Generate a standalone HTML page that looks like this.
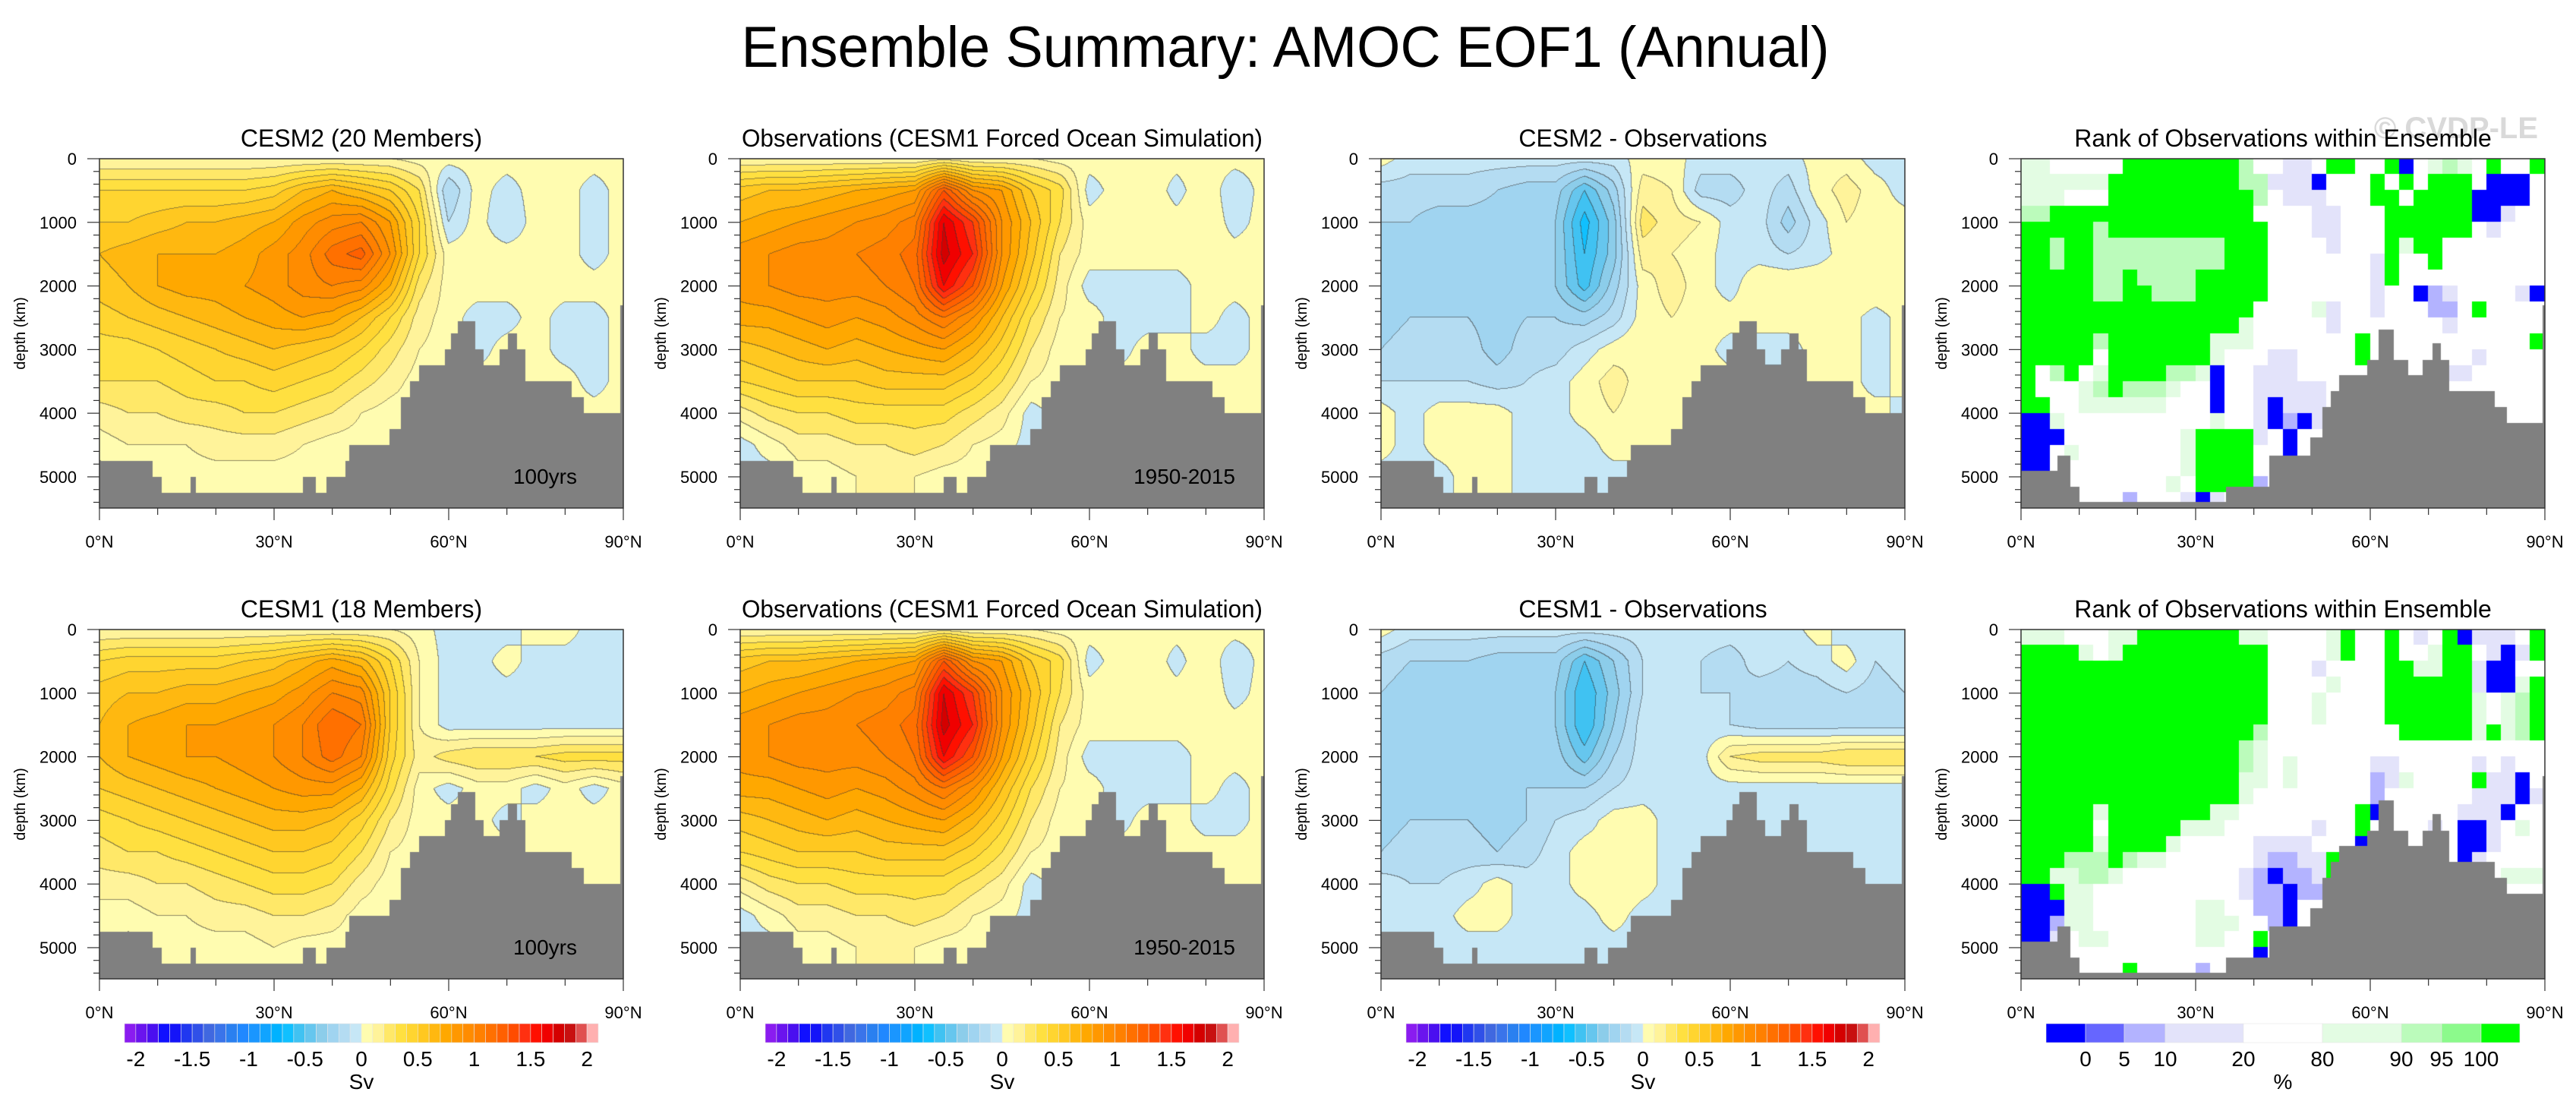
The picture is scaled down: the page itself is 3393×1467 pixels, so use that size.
<!DOCTYPE html>
<html><head><meta charset="utf-8"><title>Ensemble Summary: AMOC EOF1 (Annual)</title>
<style>
html,body{margin:0;padding:0;background:#fff;}
#wrap{position:relative;width:3393px;height:1467px;overflow:hidden;background:#fff;}
#cv{position:absolute;left:0;top:0;}
#ov{position:absolute;left:0;top:0;}
text{font-family:"Liberation Sans",sans-serif;fill:#000;}
</style></head>
<body>
<div id="wrap">
<canvas id="cv" width="3393" height="1467"></canvas>
<svg id="ov" width="3393" height="1467" xmlns="http://www.w3.org/2000/svg">
<text x="1693" y="88" font-size="76" text-anchor="middle" textLength="1433" lengthAdjust="spacingAndGlyphs">Ensemble Summary: AMOC EOF1 (Annual)</text>
<text x="3343" y="182" font-size="40" font-weight="bold" text-anchor="end" style="fill:#d9d9d9">© CVDP-LE</text>
</svg>
</div>
<script>
// ---------- data ----------
const lats = [0,5,10,15,20,25,30,35,40,45,50,55,60,65,70,75,80,85,90];
const depths = [0,500,1000,1500,2000,2500,3000,3500,4000,4500,5000,5500];
const cesm2 = [
[0.1,0.1,0.1,0.1,0.1,0.1,0.1,0.1,0.1,0.1,0.1,0.05,0.05,0.05,0.05,0.05,0.05,0.05,0.05],
[0.4,0.4,0.4,0.4,0.4,0.4,0.45,0.6,0.7,0.6,0.5,0.3,-0.2,0.05,-0.05,0.05,0.05,-0.05,0.05],
[0.5,0.5,0.55,0.6,0.6,0.65,0.7,0.85,0.95,1.0,0.8,0.4,-0.1,0.05,-0.1,0.05,0.05,-0.05,0.05],
[0.6,0.65,0.7,0.7,0.7,0.75,0.85,0.95,1.15,1.25,0.9,0.4,0.05,0.05,0.05,0.05,0.05,-0.05,0.05],
[0.55,0.6,0.7,0.75,0.75,0.8,0.85,0.95,1.0,0.95,0.7,0.25,0.05,0.05,0.05,0.05,0.05,0.05,0.05],
[0.45,0.5,0.55,0.6,0.65,0.7,0.75,0.8,0.75,0.6,0.4,0.15,0.05,-0.05,-0.05,0.05,-0.05,-0.05,0.05],
[0.35,0.35,0.4,0.45,0.5,0.55,0.6,0.55,0.5,0.4,0.25,0.1,0.05,-0.05,0.05,0.05,-0.05,-0.05,0.05],
[0.3,0.3,0.3,0.35,0.4,0.4,0.45,0.4,0.35,0.25,0.15,0.05,0.05,0.05,0.05,0.05,0.05,-0.05,0.05],
[0.15,0.2,0.2,0.25,0.25,0.3,0.3,0.25,0.2,0.1,0.05,0.05,0.05,0.05,0.05,0.05,0.05,0.05,0.05],
[0.05,0.1,0.1,0.1,0.15,0.15,0.15,0.1,0.05,0.05,0.05,-0.05,0.05,0.05,0.05,0.05,0.05,0.05,0.05],
[-0.05,-0.05,0.05,0.05,0.05,0.05,0.05,0.05,0.05,0.05,-0.05,-0.05,0.05,0.05,0.05,0.05,0.05,0.05,0.05],
[-0.05,-0.05,0.05,0.05,0.05,0.05,0.05,0.05,0.05,0.05,-0.05,-0.05,0.05,0.05,0.05,0.05,0.05,0.05,0.05]];
const obs = [
[0.1,0.1,0.1,0.1,0.1,0.1,0.1,0.15,0.1,0.1,0.1,0.05,0.05,0.05,0.05,0.05,0.05,0.05,0.05],
[0.55,0.6,0.6,0.65,0.7,0.75,0.8,1.3,0.9,0.8,0.5,0.35,-0.05,0.05,0.1,-0.05,0.1,-0.1,0.05],
[0.7,0.75,0.8,0.85,0.9,0.95,1.05,1.7,1.4,0.9,0.6,0.3,0.05,0.1,0.1,0.05,0.1,-0.05,0.05],
[0.85,0.9,0.95,0.95,1.0,1.05,1.15,1.75,1.5,0.9,0.55,0.2,0.05,0.05,0.05,0.05,0.05,0.05,0.05],
[0.85,0.9,0.95,0.95,0.95,1.0,1.1,1.6,1.3,0.8,0.45,0.15,-0.05,-0.05,-0.05,-0.05,0.05,0.05,0.05],
[0.75,0.75,0.8,0.85,0.8,0.85,0.95,1.1,0.9,0.6,0.3,0.1,0.05,-0.05,-0.05,-0.05,0.05,-0.05,0.05],
[0.55,0.6,0.65,0.7,0.65,0.7,0.75,0.8,0.65,0.45,0.2,0.05,0.05,-0.05,0.05,0.05,-0.05,-0.05,0.05],
[0.4,0.45,0.5,0.5,0.5,0.55,0.55,0.55,0.45,0.3,0.1,0.05,0.05,0.05,0.05,0.05,0.05,0.05,0.05],
[0.15,0.25,0.3,0.3,0.35,0.35,0.35,0.35,0.25,0.15,-0.05,0.05,0.05,0.05,0.05,0.05,0.05,0.05,0.05],
[-0.05,0.05,0.15,0.15,0.2,0.2,0.25,0.2,0.1,0.05,-0.05,0.05,0.05,0.05,0.05,0.05,0.05,0.05,0.05],
[-0.05,-0.05,0.05,0.05,0.1,0.1,0.1,0.05,0.05,-0.05,-0.05,0.05,0.05,0.05,0.05,0.05,0.05,0.05,0.05],
[-0.05,-0.05,0.05,0.05,0.1,0.1,0.1,0.05,0.05,-0.05,-0.05,0.05,0.05,0.05,0.05,0.05,0.05,0.05,0.05]];
const diff2 = [
[0.05,-0.05,-0.05,-0.05,-0.05,-0.05,-0.05,-0.05,-0.05,0.05,0.05,-0.05,-0.05,-0.05,-0.05,0.05,0.05,-0.05,-0.05],
[-0.15,-0.15,-0.15,-0.15,-0.2,-0.25,-0.25,-0.5,-0.25,0.15,0.1,-0.15,-0.15,-0.05,-0.15,0.05,0.15,0.05,-0.05],
[-0.2,-0.2,-0.25,-0.25,-0.25,-0.25,-0.3,-0.65,-0.35,0.25,0.15,0.1,-0.05,-0.05,-0.25,-0.05,0.1,0.05,0.05],
[-0.25,-0.2,-0.25,-0.25,-0.25,-0.25,-0.3,-0.6,-0.35,0.15,0.1,0.05,-0.05,-0.05,-0.1,-0.05,0.05,0.05,0.05],
[-0.3,-0.2,-0.25,-0.25,-0.2,-0.2,-0.3,-0.55,-0.25,0.05,0.15,0.05,-0.05,0.1,0.1,0.1,0.1,0.1,0.1],
[-0.25,-0.2,-0.2,-0.2,-0.25,-0.2,-0.2,-0.25,-0.15,0.05,0.1,0.05,0.05,0.05,0.05,0.05,0.05,-0.05,0.05],
[-0.2,-0.15,-0.15,-0.15,-0.25,-0.15,-0.15,-0.05,0.05,0.1,0.05,0.05,-0.05,-0.05,-0.05,0.05,0.05,-0.05,0.05],
[-0.1,-0.1,-0.1,-0.1,-0.15,-0.1,-0.05,0.05,0.15,0.05,0.05,0.05,0.05,0.05,0.05,0.05,0.05,-0.05,0.05],
[0.05,-0.05,0.05,0.05,0.05,-0.05,-0.05,0.05,0.1,0.05,0.05,0.05,0.05,0.05,0.05,0.05,0.05,0.05,-0.05],
[0.05,-0.05,0.05,0.05,0.05,-0.05,-0.05,-0.05,0.05,0.05,0.05,0.05,0.05,0.05,0.05,0.05,0.05,0.05,0.05],
[-0.05,-0.05,-0.05,0.05,0.05,-0.05,-0.05,-0.05,-0.05,-0.05,0.05,0.05,0.05,0.05,0.05,0.05,0.05,0.05,0.05],
[-0.05,-0.05,-0.05,0.05,0.05,-0.05,-0.05,-0.05,-0.05,-0.05,0.05,0.05,0.05,0.05,0.05,0.05,0.05,0.05,0.05]];
const cesm1 = [
[0.1,0.1,0.1,0.1,0.1,0.1,0.1,0.1,0.1,0.1,0.1,0.05,-0.05,-0.05,-0.05,0.05,0.05,-0.05,-0.05],
[0.4,0.45,0.45,0.45,0.45,0.5,0.55,0.65,0.75,0.65,0.4,0.1,-0.05,-0.05,0.05,-0.05,-0.05,-0.05,-0.05],
[0.55,0.6,0.6,0.65,0.65,0.7,0.75,0.85,1.0,0.95,0.5,0.1,-0.05,-0.05,-0.05,-0.05,-0.05,-0.05,-0.05],
[0.6,0.7,0.75,0.8,0.8,0.85,0.9,1.0,1.2,1.1,0.5,0.1,-0.05,-0.05,-0.05,-0.05,-0.05,-0.05,-0.05],
[0.6,0.7,0.75,0.8,0.8,0.85,0.9,1.0,1.15,1.0,0.45,0.15,0.25,0.3,0.3,0.3,0.35,0.35,0.35],
[0.5,0.55,0.6,0.65,0.7,0.75,0.8,0.85,0.85,0.7,0.35,0.05,-0.05,0.05,0.05,-0.05,0.05,-0.05,0.05],
[0.35,0.4,0.45,0.5,0.55,0.6,0.65,0.65,0.6,0.45,0.2,0.05,0.05,0.05,-0.05,0.05,0.05,0.05,0.05],
[0.25,0.3,0.3,0.35,0.4,0.45,0.5,0.5,0.45,0.3,0.1,0.05,0.05,0.05,0.05,0.05,0.05,0.05,0.05],
[0.15,0.15,0.2,0.2,0.25,0.3,0.35,0.35,0.3,0.15,0.05,0.05,0.05,0.05,0.05,0.05,0.05,0.05,0.05],
[0.05,0.05,0.1,0.1,0.15,0.15,0.2,0.2,0.15,0.05,0.05,0.05,0.05,0.05,0.05,0.05,0.05,0.05,0.05],
[0.05,-0.05,0.05,0.05,0.05,0.05,0.1,0.05,0.05,0.05,0.05,0.05,0.05,0.05,0.05,0.05,0.05,0.05,0.05],
[0.05,-0.05,0.05,0.05,0.05,0.05,0.1,0.05,0.05,0.05,0.05,0.05,0.05,0.05,0.05,0.05,0.05,0.05,0.05]];
const diff1 = [
[0.05,-0.05,-0.05,-0.05,-0.05,-0.05,-0.05,-0.05,-0.05,-0.05,-0.05,-0.05,-0.05,-0.05,-0.05,0.05,-0.05,-0.05,-0.05],
[-0.15,-0.2,-0.2,-0.2,-0.25,-0.25,-0.25,-0.5,-0.3,-0.1,-0.1,-0.1,-0.15,-0.05,-0.1,-0.05,0.05,-0.1,-0.05],
[-0.2,-0.25,-0.25,-0.25,-0.25,-0.25,-0.3,-0.6,-0.35,-0.1,-0.05,-0.1,-0.1,-0.15,-0.15,-0.15,-0.1,-0.15,-0.1],
[-0.3,-0.25,-0.25,-0.25,-0.25,-0.25,-0.3,-0.6,-0.3,-0.05,-0.05,-0.05,-0.1,-0.15,-0.15,-0.15,-0.15,-0.15,-0.15],
[-0.3,-0.25,-0.25,-0.25,-0.25,-0.25,-0.25,-0.45,-0.2,-0.05,-0.05,-0.05,0.2,0.25,0.25,0.25,0.3,0.3,0.3],
[-0.3,-0.25,-0.2,-0.25,-0.25,-0.2,-0.2,-0.2,-0.1,-0.05,-0.05,-0.05,-0.05,-0.05,-0.05,-0.05,-0.05,-0.05,-0.05],
[-0.25,-0.2,-0.2,-0.2,-0.25,-0.2,-0.1,-0.05,0.05,0.05,-0.05,-0.05,-0.05,-0.05,-0.05,-0.05,-0.05,-0.05,-0.05],
[-0.2,-0.15,-0.15,-0.15,-0.2,-0.15,-0.05,0.05,0.05,0.05,-0.05,-0.05,-0.05,-0.05,-0.05,-0.05,-0.05,-0.05,-0.05],
[-0.05,-0.1,-0.1,-0.05,0.05,-0.05,-0.05,0.05,0.1,0.05,-0.05,-0.05,-0.05,-0.05,-0.05,-0.05,-0.05,-0.05,-0.05],
[-0.05,-0.05,-0.05,0.05,0.05,-0.05,-0.05,-0.05,0.05,-0.05,-0.05,-0.05,-0.05,-0.05,-0.05,-0.05,-0.05,-0.05,-0.05],
[-0.05,-0.05,-0.05,-0.05,-0.05,-0.05,-0.05,-0.05,-0.05,-0.05,-0.05,-0.05,-0.05,-0.05,-0.05,-0.05,-0.05,-0.05,-0.05],
[-0.05,-0.05,-0.05,-0.05,-0.05,-0.05,-0.05,-0.05,-0.05,-0.05,-0.05,-0.05,-0.05,-0.05,-0.05,-0.05,-0.05,-0.05,-0.05]];
// rank category grids: 36 lat bins (2.5 deg) x 22 depth bins (250 m); 0=<0%,1=0-5,2=5-10,3=10-20,4=20-80,5=80-90,6=90-95,7=95-100,8=>100
const rank2 = [
[5,5,4,4,4,4,4,8,8,8,8,8,8,8,8,6,4,4,3,3,4,8,8,4,4,8,0,4,5,6,5,4,8,4,4,8],
[5,5,5,5,5,5,8,8,8,8,8,8,8,8,8,6,6,3,3,3,0,4,4,4,8,4,8,4,8,8,8,4,0,0,0,4],
[5,5,5,4,4,4,8,8,8,8,8,8,8,8,8,8,6,4,3,3,3,4,4,4,8,8,4,8,8,8,8,0,0,0,0,4],
[6,6,8,8,8,8,8,8,8,8,8,8,8,8,8,8,4,4,4,4,3,3,4,4,4,8,8,8,8,8,8,0,0,3,4,4],
[8,8,8,8,8,6,8,8,8,8,8,8,8,8,8,8,8,4,4,4,3,3,4,4,4,8,8,8,8,8,8,4,3,4,4,4],
[8,8,6,8,8,6,6,6,6,6,6,6,6,6,8,8,8,4,4,4,4,3,4,4,4,8,5,8,8,4,4,4,4,4,4,4],
[8,8,6,8,8,6,6,6,6,6,6,6,6,6,8,8,8,4,4,4,4,4,4,4,3,8,4,4,8,4,4,4,4,4,4,4],
[8,8,8,8,8,6,6,8,6,6,6,6,8,8,8,8,8,4,4,4,4,4,4,4,3,8,4,4,4,4,4,4,4,4,4,4],
[8,8,8,8,8,6,6,8,8,6,6,6,8,8,8,8,8,4,4,4,4,4,4,4,3,4,4,0,2,3,4,4,4,4,3,0],
[8,8,8,8,8,8,8,8,8,8,8,8,8,8,8,8,4,4,4,4,5,3,4,4,3,4,4,4,2,2,4,8,4,4,4,4],
[8,8,8,8,8,8,8,8,8,8,8,8,8,8,8,5,4,4,4,4,4,3,4,4,4,4,4,4,4,3,4,4,4,4,4,4],
[8,8,8,8,8,6,8,8,8,8,8,8,8,5,5,5,4,4,4,4,4,4,4,8,4,4,4,4,4,4,4,4,4,4,4,8],
[8,8,8,8,8,4,8,8,8,8,8,8,8,5,4,4,4,3,3,4,4,4,4,8,4,4,4,4,4,4,4,3,4,4,4,4],
[8,4,6,8,4,5,8,8,8,8,6,6,5,0,4,4,3,3,3,4,4,4,4,4,4,4,4,4,4,3,3,4,4,4,4,4],
[8,4,4,4,5,6,8,6,6,6,5,4,4,0,4,4,3,3,3,3,3,4,4,4,4,4,4,4,4,4,4,4,4,4,4,4],
[8,8,4,4,5,5,5,5,5,5,4,4,4,0,4,4,3,0,3,3,3,4,4,4,4,4,4,4,4,4,4,4,4,4,4,4],
[0,0,5,4,4,4,4,4,4,4,4,4,4,5,4,4,3,0,2,0,3,4,4,4,4,4,4,4,4,4,4,4,4,4,4,4],
[0,0,0,4,4,4,4,4,4,4,4,5,8,8,8,8,3,4,0,4,4,4,4,4,4,4,4,4,4,4,4,4,4,4,4,4],
[0,0,4,5,4,4,4,4,4,4,4,5,8,8,8,8,4,4,0,4,4,4,4,4,4,4,4,4,4,4,4,4,4,4,4,4],
[0,0,4,4,4,4,4,4,4,4,4,5,8,8,8,8,4,4,4,4,4,4,4,4,4,4,4,4,4,4,4,4,4,4,4,4],
[4,4,4,4,4,4,4,4,4,4,5,4,8,8,8,8,2,4,4,4,4,4,4,4,4,4,4,4,4,4,4,4,4,4,4,4],
[4,4,4,4,4,4,4,2,4,4,4,3,0,3,4,8,4,4,4,4,4,4,4,4,4,4,4,4,4,4,4,4,4,4,4,4]];
const rank1 = [
[5,5,5,4,4,4,5,5,8,8,8,8,8,8,8,5,5,4,4,4,4,5,8,4,4,8,4,3,4,8,0,3,3,3,4,8],
[8,8,8,8,5,4,5,8,8,8,8,8,8,8,8,8,8,4,4,4,4,5,8,4,4,8,4,4,5,8,8,4,3,0,3,8],
[8,8,8,8,8,8,8,8,8,8,8,8,8,8,8,8,8,4,4,4,3,4,4,4,4,8,8,5,5,8,8,3,0,0,4,4],
[8,8,8,8,8,8,8,8,8,8,8,8,8,8,8,8,8,4,4,4,4,5,4,4,4,8,8,8,8,8,8,3,0,0,5,8],
[8,8,8,8,8,8,8,8,8,8,8,8,8,8,8,8,8,4,4,4,5,4,4,4,4,8,8,8,8,8,8,5,4,5,6,8],
[8,8,8,8,8,8,8,8,8,8,8,8,8,8,8,8,8,4,4,4,5,4,4,4,4,8,8,8,8,8,8,5,4,5,6,8],
[8,8,8,8,8,8,8,8,8,8,8,8,8,8,8,8,6,4,4,4,4,4,4,4,4,4,8,8,8,8,8,5,8,5,6,8],
[8,8,8,8,8,8,8,8,8,8,8,8,8,8,8,6,5,4,4,4,4,4,4,4,4,4,4,4,4,4,4,4,4,4,4,4],
[8,8,8,8,8,8,8,8,8,8,8,8,8,8,8,6,5,4,5,4,4,4,4,4,3,3,4,4,4,4,4,3,4,3,4,4],
[8,8,8,8,8,8,8,8,8,8,8,8,8,8,8,5,5,4,5,4,4,4,4,4,2,3,5,4,4,4,4,8,3,3,0,4],
[8,8,8,8,8,8,8,8,8,8,8,8,8,8,8,5,4,4,4,4,4,4,4,4,2,4,4,4,4,4,4,3,3,3,0,3],
[8,8,8,8,8,5,8,8,8,8,8,8,8,5,5,4,4,4,4,4,4,4,4,8,0,4,4,4,4,4,3,3,3,0,4,4],
[8,8,8,8,8,4,8,8,8,8,8,5,5,5,4,4,4,4,4,4,3,4,4,8,4,4,4,4,3,4,0,0,3,4,5,4],
[8,8,8,8,8,5,8,8,8,8,5,4,4,4,4,4,3,3,3,3,4,4,4,0,4,4,4,4,4,4,0,0,3,4,4,4],
[8,8,8,6,6,6,8,6,5,5,4,4,4,4,4,4,3,2,2,3,3,8,4,4,4,4,4,4,4,4,0,3,4,4,4,4],
[8,8,5,5,6,6,5,4,4,4,4,4,4,4,4,3,2,0,2,2,3,8,4,4,4,4,4,4,4,4,4,4,4,5,5,5],
[0,0,8,5,5,4,4,4,4,4,4,4,4,4,4,3,2,2,0,2,2,4,4,4,4,4,4,4,4,4,4,4,4,4,4,4],
[0,0,0,5,5,4,4,4,4,4,4,4,5,5,4,4,2,2,0,4,4,4,4,4,4,4,4,4,4,4,4,4,4,4,4,4],
[0,0,2,5,5,4,4,4,4,4,4,4,5,5,5,4,4,2,0,4,4,4,4,4,4,4,4,4,4,4,4,4,4,4,4,4],
[0,0,3,4,5,5,4,4,4,4,4,4,5,5,4,4,8,4,4,4,4,4,4,4,4,4,4,4,4,4,4,4,4,4,4,4],
[4,4,4,4,4,4,4,4,4,4,4,4,4,4,4,4,0,4,4,4,4,4,4,4,4,4,4,4,4,4,4,4,4,4,4,4],
[4,4,4,4,4,4,4,8,4,4,4,4,2,4,4,4,4,4,4,4,4,4,4,4,4,4,4,4,4,4,4,4,4,4,4,4]];
const topoLat = [0,9.1,10.7,15.7,16.5,35,37.2,39,42.3,42.9,49.8,51.8,53.4,54.9,59.4,60.4,61.5,64.6,66,68.7,70.2,71.8,73.2,81.1,83.2,89.5];
const topoDepth = [4750,5000,5250,5000,5250,5000,5250,5000,4750,4500,4250,3750,3500,3250,3000,2750,2550,3000,3250,3000,2750,3000,3500,3750,4000,2300];
const rankTopoLat = [0,6.2,8.5,10.1,35.2,42.7,49.7,51.8,53.2,54.6,59.5,61.4,64.0,66.5,69.0,70.7,72.1,73.5,81.4,83.5,89.6];
const rankTopoDepth = [4900,4670,5150,5400,5150,4670,4380,3900,3650,3400,3160,2680,3160,3400,3160,2900,3160,3650,3900,4150,2300];
const svTicks = [-2,-1.5,-1,-0.5,0,0.5,1,1.5,2];
const svTickLabels = ["-2","-1.5","-1","-0.5","0","0.5","1","1.5","2"];
const rankTickLabels = ["0","5","10","20","80","90","95","100"];
const depthTicks = [0,1000,2000,3000,4000,5000];
const latTicks = [0,30,60,90];
const latTickLabels = ["0°N","30°N","60°N","90°N"];
const panelTitles = [["CESM2 (20 Members)","Observations (CESM1 Forced Ocean Simulation)","CESM2 - Observations","Rank of Observations within Ensemble"],
                     ["CESM1 (18 Members)","Observations (CESM1 Forced Ocean Simulation)","CESM1 - Observations","Rank of Observations within Ensemble"]];
// ---------- styling ----------
const svColors = ["#8a1cf0","#6a14ee","#4a0ff0","#1010ff","#1414f8","#2038f0","#3050e8","#4068e0","#3a74ea","#2a80f0","#2088ff","#1a96ff","#10a4ff","#00b2ff","#10c0ff","#40c2f2","#66c6ee","#8ccdea","#a0d4f0","#b4dcf2","#c6e7f6",
"#fffcb0","#fff39a","#ffe868","#ffe040","#ffd530","#ffc820","#ffb810","#ffa800","#ff9800","#ff8c00","#ff8000","#ff7000","#ff6000","#ff4c00","#ff3010","#ff1000","#f00000","#d40000","#c81010","#e05050","#ffb0b0"];
const rankColors = ["#0000ff","#6666ff","#b3b3ff","#e3e3fa","#ffffff","#e3fce3","#bbfbbb","#8cfa8c","#00ff00"];
const rankBounds = [2695,2747,2798,2852,2955,3059,3163,3216,3268,3319];
const PL = [131,975,1819,2662], PT = [209,829], PW = 690, PH = 460, DMAX = 5490;
const NS = "http://www.w3.org/2000/svg";
const svg = document.getElementById('ov');
const ctx = document.getElementById('cv').getContext('2d');

function xOf(p, lat){ return PL[p] + lat/90*PW; }
function yOf(r, dep){ return PT[r] + dep/DMAX*PH; }
function hex(c){ return [parseInt(c.substr(1,2),16),parseInt(c.substr(3,2),16),parseInt(c.substr(5,2),16)]; }
const svRGB = svColors.map(hex);

function sample(grid, lat, dep){
  let fi = Math.min(lat/5, lats.length-1.0001), fj = Math.min(dep/500, depths.length-1.0001);
  const i = Math.floor(fi), j = Math.floor(fj), a = fi-i, b = fj-j;
  return (grid[j][i]*(1-a)+grid[j][i+1]*a)*(1-b) + (grid[j+1][i]*(1-a)+grid[j+1][i+1]*a)*b;
}
function levelIdx(v){ let k = Math.floor(v/0.1+1e-9)+21; return Math.max(0,Math.min(41,k)); }

function drawTopo(p, r, tl, td){
  ctx.fillStyle = '#808080';
  for(let i=0;i<tl.length;i++){
    const l0 = tl[i], l1 = (i+1<tl.length)? tl[i+1] : 90;
    const x0 = Math.round(xOf(p,l0)), x1 = Math.round(xOf(p,l1));
    const y0 = Math.round(yOf(r,td[i]));
    ctx.fillRect(x0, y0, x1-x0, PT[r]+PH-y0);
  }
}
function drawContour(p, r, grid){
  const W = PW, H = PH;
  const idx = new Int16Array(W*H);
  for(let y=0;y<H;y++){ const dep=(y+0.5)/H*DMAX;
    for(let x=0;x<W;x++){ idx[y*W+x] = levelIdx(sample(grid,(x+0.5)/W*90,dep)); } }
  const img = ctx.createImageData(W,H);
  for(let y=0;y<H;y++) for(let x=0;x<W;x++){
    const k = y*W+x, c = svRGB[idx[k]];
    let line = (x<W-1 && idx[k+1]!==idx[k]) || (y<H-1 && idx[k+W]!==idx[k]);
    const f = line ? 0.45 : 1;
    img.data[k*4] = c[0]*f+ (line?30:0); img.data[k*4+1] = c[1]*f+(line?30:0); img.data[k*4+2] = c[2]*f+(line?30:0); img.data[k*4+3] = 255;
  }
  ctx.putImageData(img, PL[p], PT[r]);
  drawTopo(p, r, topoLat, topoDepth);
}
function drawRank(p, r, grid){
  const cw = PW/36, ch = 250/DMAX*PH;
  for(let j=0;j<grid.length;j++) for(let i=0;i<36;i++){
    ctx.fillStyle = rankColors[grid[j][i]];
    const x0 = Math.floor(xOf(p,i*2.5)), x1 = Math.ceil(xOf(p,(i+1)*2.5));
    const y0 = Math.floor(yOf(r,j*250)), y1 = Math.min(Math.ceil(yOf(r,(j+1)*250)), PT[r]+PH);
    ctx.fillRect(x0,y0,x1-x0,y1-y0);
  }
  drawTopo(p, r, rankTopoLat, rankTopoDepth);
}
function mk(tag, attrs){ const e = document.createElementNS(NS, tag); for(const k in attrs) e.setAttribute(k, attrs[k]); svg.appendChild(e); return e; }
function txt(x, y, s, size, anchor){ const t = mk('text', {x:x, y:y, 'font-size':size, 'text-anchor':anchor}); t.textContent = s; return t; }

function drawAxes(p, r){
  const L = PL[p], T = PT[r];
  const fr = mk('rect', {x:L, y:T, width:PW, height:PH, fill:'none', stroke:'#333', 'stroke-width':1.5});
  
  
  for(let d=0; d<=5400; d+=200){
    const y = yOf(r,d), major = (d%1000===0);
    const tk = mk('line', {x1:L-(major?16:8), x2:L, y1:y, y2:y, stroke:'#333', 'stroke-width':1.2});
    
    
  }
  depthTicks.forEach(function(d){
    const t = txt(L-30, yOf(r,d)+8, String(d), 22, 'end');
    
    
  });
  for(let lat=0; lat<=90; lat+=10){
    const x = xOf(p,lat), major = (lat%30===0);
    const tk = mk('line', {x1:x, x2:x, y1:T+PH, y2:T+PH+(major?16:9), stroke:'#333', 'stroke-width':1.2});
    
    
  }
  latTicks.forEach(function(lat, i){
    const t = txt(xOf(p,lat), T+PH+52, latTickLabels[i], 22, 'middle');
    
    
  });
  const yt = txt(0, 0, 'depth (km)', 20, 'middle');
  yt.setAttribute('transform', 'translate('+(L-98)+','+(T+PH/2)+') rotate(-90)');
  
  
  const title = panelTitles[r][p];
  const tt = txt(L+PW/2, T-16, title, 32, 'middle');
  if(title.length > 40){ tt.setAttribute('textLength', 686); tt.setAttribute('lengthAdjust', 'spacingAndGlyphs'); }
  
  
}

for(let r=0;r<2;r++){
  drawContour(0, r, r===0 ? cesm2 : cesm1);
  drawContour(1, r, obs);
  drawContour(2, r, r===0 ? diff2 : diff1);
  drawRank(3, r, r===0 ? rank2 : rank1);
  for(let p=0;p<4;p++) drawAxes(p, r);
  const a1 = txt(PL[0]+PW-61, PT[r]+PH-32, '100yrs', 28, 'end');
  
  
  const a2 = txt(PL[1]+PW-38, PT[r]+PH-32, '1950-2015', 28, 'end');
  
  
}

// colorbars
const CBY = 1348, CBH = 25;
for(let p=0;p<3;p++){
  const x0 = 164 + p*844, bw = 624/42;
  for(let k=0;k<42;k++){
    const b = mk('rect', {x:x0+k*bw, y:CBY, width:bw, height:CBH, fill:svColors[k], stroke:'#e6e6e6', 'stroke-width':0.6});
    
    
  }
  svTicks.forEach(function(v, i){
    const t = txt(x0 + bw*(1+(v+2)*10), 1404, svTickLabels[i], 28, 'middle');
    
    
  });
  const u = txt(x0+bw*21, 1434, 'Sv', 28, 'middle');
  
  
}
for(let k=0;k<9;k++){
  const b = mk('rect', {x:rankBounds[k], y:CBY, width:rankBounds[k+1]-rankBounds[k], height:CBH, fill:rankColors[k], stroke:'#e6e6e6', 'stroke-width':0.6});
  
  
}
rankTickLabels.forEach(function(s, i){
  const t = txt(rankBounds[i+1], 1404, s, 28, 'middle');
  
  
});
const pu = txt(3007, 1434, '%', 28, 'middle');


</script>
</body></html>
